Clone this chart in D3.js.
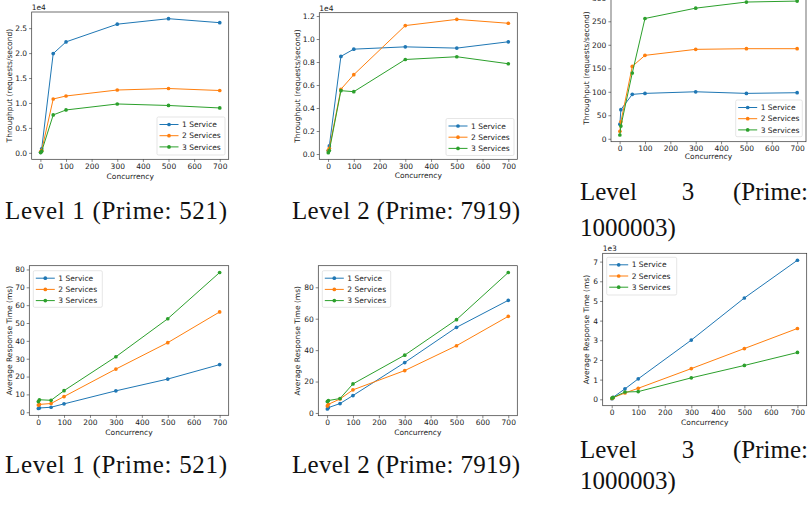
<!DOCTYPE html>
<html><head><meta charset="utf-8">
<script src="https://cdn.jsdelivr.net/npm/d3@7"></script>
<style>
html,body{margin:0;padding:0;background:#fff;}
svg{display:block;}
</style></head><body>
<svg id="fig" width="811" height="505"></svg>
<script>
// ---------------- data ----------------
const concurrency = [1, 5, 50, 100, 300, 500, 700];
const serviceLabels = ["1 Service", "2 Services", "3 Services"];
const seriesColors = ["#1f77b4", "#ff7f0e", "#2ca02c"];
const xTickValues = [0, 100, 200, 300, 400, 500, 600, 700];

// throughput (requests/second)
const throughputL1 = [
  [100, 800, 19900, 22250, 25800, 26900, 26100],
  [200, 500, 10800, 11400, 12600, 12900, 12500],
  [50, 300, 7600, 8600, 9800, 9500, 9000]
];
const throughputL2 = [
  [300, 700, 8490, 9120, 9320, 9210, 9760],
  [300, 500, 5630, 6900, 11170, 11710, 11370],
  [120, 300, 5510, 5420, 8220, 8460, 7850]
];
const throughputL3 = [
  [31, 62, 94.5, 96.6, 100, 96.6, 98],
  [16, 36, 154, 177.5, 190.3, 191.7, 191.7],
  [8, 27, 140, 256, 278, 291, 293]
];
// average response time (ms)
const responseL1 = [
  [2.1, 2.4, 2.8, 4.7, 12.0, 18.6, 26.7],
  [4.0, 4.4, 4.9, 8.8, 24.2, 39.0, 56.2],
  [6.0, 7.0, 6.7, 12.1, 31.1, 52.4, 78.3]
];
const responseL2 = [
  [2.6, 3.4, 6.0, 11.1, 32.1, 54.5, 71.7],
  [4.5, 5.5, 8.9, 14.7, 27.0, 42.8, 61.5],
  [7.3, 7.9, 9.2, 18.5, 36.8, 59.4, 89.4]
];
const responseL3 = [
  [26, 100, 530, 1040, 3010, 5150, 7070],
  [40, 80, 320, 560, 1560, 2580, 3600],
  [60, 90, 370, 390, 1090, 1720, 2380]
];

const yTicksTpL1 = [0, 5000, 10000, 15000, 20000, 25000];
const yTicksTpL2 = [0, 2000, 4000, 6000, 8000, 10000, 12000];
const yTicksTpL3 = [0, 50, 100, 150, 200, 250, 300];
const yTicksRtL1 = [0, 10, 20, 30, 40, 50, 60, 70, 80];
const yTicksRtL2 = [0, 20, 40, 60, 80];
const yTicksRtL3 = [0, 1000, 2000, 3000, 4000, 5000, 6000, 7000];

const captionL1 = "Level 1 (Prime: 521)";
const captionL2 = "Level 2 (Prime: 7919)";
const captionL3 = ["Level", "3", "(Prime:", "1000003)"];

// ---------------- drawing ----------------
const svg = d3.select("#fig");
const SANS = '"DejaVu Sans", sans-serif';
const SERIF = '"Liberation Serif", "DejaVu Serif", "Times New Roman", serif';
const FS = 7.5;
const TXT = "#1a1a1a";

const panels = [
  {series: throughputL1, yTicks: yTicksTpL1, offset: "1e4", fmt: d => (d/1e4).toFixed(1),
   ylabel: "Throughput (requests/second)", left: 31.7, right: 228.7, top: 12, bottom: 159.3,
   ylabelX: 9, xlabelY: 176, legend: {x: 157, y: 117, w: 68, h: 38}},
  {series: throughputL2, yTicks: yTicksTpL2, offset: "1e4", fmt: d => (d/1e4).toFixed(1),
   ylabel: "Throughput (requests/second)", left: 319.3, right: 517.3, top: 12.7, bottom: 159.3,
   ylabelX: 297.7, xlabelY: 175.7, legend: {x: 446, y: 118.5, w: 68, h: 37}},
  {series: throughputL3, yTicks: yTicksTpL3, offset: null, fmt: d => String(d),
   ylabel: "Throughput (requests/second)", left: 611, right: 806, top: -5.6, bottom: 141.7,
   ylabelX: 586, xlabelY: 156.7, legend: {x: 735.7, y: 100, w: 66.6, h: 36.7}},
  {series: responseL1, yTicks: yTicksRtL1, offset: null, fmt: d => String(d),
   ylabel: "Average Response Time (ms)", left: 29.3, right: 228.7, top: 265.7, bottom: 415.3,
   ylabelX: 9, xlabelY: 432.7, legend: {x: 33.3, y: 270.7, w: 69, h: 36.6}},
  {series: responseL2, yTicks: yTicksRtL2, offset: null, fmt: d => String(d),
   ylabel: "Average Response Time (ms)", left: 318.3, right: 517.3, top: 265.7, bottom: 415.7,
   ylabelX: 297.7, xlabelY: 432.3, legend: {x: 322.3, y: 270.7, w: 68.4, h: 36.6}},
  {series: responseL3, yTicks: yTicksRtL3, offset: "1e3", fmt: d => String(d/1e3),
   ylabel: "Average Response Time (ms)", left: 602.7, right: 806.7, top: 253.3, bottom: 405.7,
   ylabelX: 586.7, xlabelY: 422.7, legend: {x: 606.7, y: 257.3, w: 70, h: 37.7}}
];

function drawPanel(p) {
  const g = svg.append("g");
  const xmin = d3.min(concurrency), xmax = d3.max(concurrency);
  const xs = xmax - xmin;
  const all = p.series.flat();
  const ymin = d3.min(all), ymax = d3.max(all);
  const ys = ymax - ymin;
  const x = d3.scaleLinear().domain([xmin - 0.05*xs, xmax + 0.05*xs]).range([p.left, p.right]);
  const y = d3.scaleLinear().domain([ymin - 0.05*ys, ymax + 0.05*ys]).range([p.bottom, p.top]);

  const xa = g.append("g").attr("transform", `translate(0,${p.bottom})`)
    .call(d3.axisBottom(x).tickValues(xTickValues).tickSize(2.6).tickPadding(1.6).tickFormat(d3.format("d")));
  const ya = g.append("g").attr("transform", `translate(${p.left},0)`)
    .call(d3.axisLeft(y).tickValues(p.yTicks).tickSize(2.6).tickPadding(2).tickFormat(p.fmt));
  [xa, ya].forEach(a => {
    a.select(".domain").remove();
    a.selectAll(".tick line").attr("stroke", "#333").attr("stroke-width", 0.6);
    a.selectAll(".tick text").attr("fill", TXT).style("font-family", SANS).style("font-size", FS + "px");
  });

  // series
  p.series.forEach((vals, si) => {
    const pts = vals.map((v, i) => [x(concurrency[i]), y(v)]);
    g.append("path").attr("d", d3.line()(pts)).attr("fill", "none")
      .attr("stroke", seriesColors[si]).attr("stroke-width", 1);
    g.selectAll(null).data(pts).enter().append("circle")
      .attr("cx", d => d[0]).attr("cy", d => d[1]).attr("r", 1.85)
      .attr("fill", seriesColors[si]);
  });

  // frame
  g.append("rect").attr("x", p.left).attr("y", p.top)
    .attr("width", p.right - p.left).attr("height", p.bottom - p.top)
    .attr("fill", "none").attr("stroke", "#333").attr("stroke-width", 0.7);

  // offset text
  if (p.offset) {
    g.append("text").attr("x", p.left).attr("y", p.top - 2.2).text(p.offset)
      .attr("fill", TXT).style("font-family", SANS).style("font-size", FS + "px");
  }
  // axis labels
  g.append("text").attr("x", (p.left + p.right)/2).attr("y", p.xlabelY).attr("dy", "0.35em")
    .attr("text-anchor", "middle").text("Concurrency")
    .attr("fill", TXT).style("font-family", SANS).style("font-size", FS + "px");
  const cy = (p.top + p.bottom)/2;
  g.append("text").attr("transform", `translate(${p.ylabelX},${cy}) rotate(-90)`).attr("dy", "0.35em")
    .attr("text-anchor", "middle").text(p.ylabel)
    .attr("fill", TXT).style("font-family", SANS).style("font-size", FS + "px");

  // legend
  const L = p.legend;
  const lg = g.append("g");
  lg.append("rect").attr("x", L.x).attr("y", L.y).attr("width", L.w).attr("height", L.h)
    .attr("rx", 1.5).attr("fill", "#fff").attr("fill-opacity", 0.85)
    .attr("stroke", "#d5d5d5").attr("stroke-width", 0.6);
  serviceLabels.forEach((lab, i) => {
    const ry = L.y + 7.5 + i * 11.2;
    lg.append("line").attr("x1", L.x + 2.5).attr("x2", L.x + 21.5).attr("y1", ry).attr("y2", ry)
      .attr("stroke", seriesColors[i]).attr("stroke-width", 1);
    lg.append("circle").attr("cx", L.x + 12).attr("cy", ry).attr("r", 1.85).attr("fill", seriesColors[i]);
    lg.append("text").attr("x", L.x + 25).attr("y", ry).attr("dy", "0.35em").text(lab)
      .attr("fill", TXT).style("font-family", SANS).style("font-size", FS + "px");
  });
}
panels.forEach(drawPanel);

// captions
function caption(txt, x, yb, w) {
  svg.append("text").attr("x", x).attr("y", yb).text(txt)
    .attr("textLength", w).attr("lengthAdjust", "spacing")
    .attr("fill", "#111").style("font-family", SERIF).style("font-size", "25px");
}
function caption3(x0, x1, yb1, yb2) {
  const st = s => s.attr("fill", "#111").style("font-family", SERIF).style("font-size", "25px");
  st(svg.append("text").attr("x", x0).attr("y", yb1).text(captionL3[0]));
  st(svg.append("text").attr("x", (x0 + x1)/2 - 6).attr("y", yb1).attr("text-anchor", "middle").text(captionL3[1]));
  st(svg.append("text").attr("x", x1).attr("y", yb1).attr("text-anchor", "end").text(captionL3[2]));
  st(svg.append("text").attr("x", x0).attr("y", yb2).text(captionL3[3]));
}
caption(captionL1, 5, 219, 222);
caption(captionL2, 292, 219, 228);
caption3(580, 808, 200, 236);
caption(captionL1, 5, 473, 222);
caption(captionL2, 292, 473, 228);
caption3(580, 808, 458, 489);
</script>
</body></html>
